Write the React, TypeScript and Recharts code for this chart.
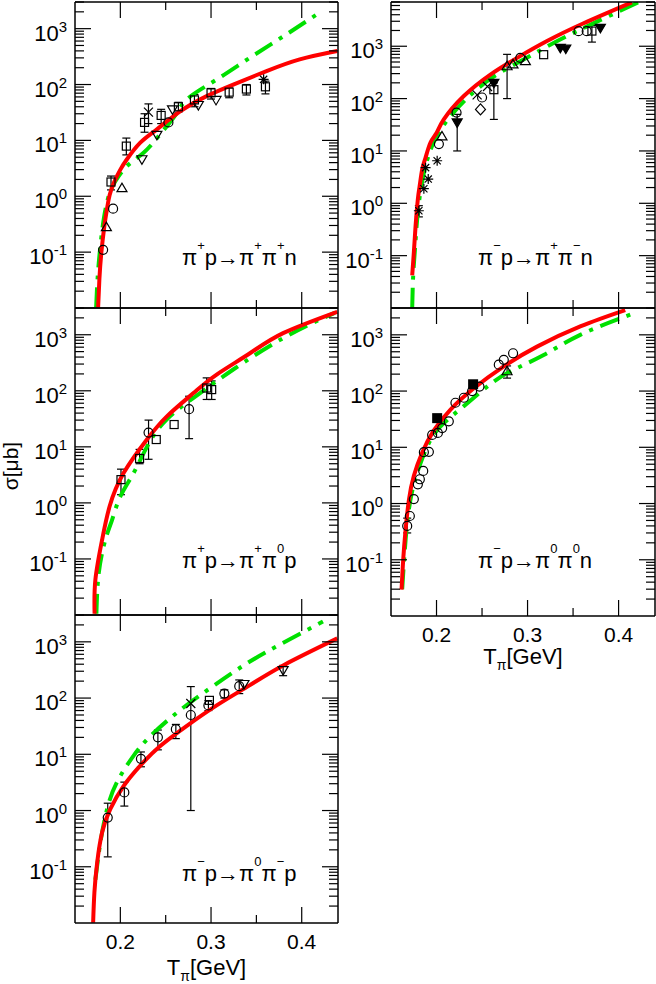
import React from "react";
import { ComposedChart, Line, Scatter, ErrorBar, XAxis, YAxis } from "recharts";

type P = number[]; // [T (GeV), sigma (mub), optional low, optional high]

// ---- ticks ----
const T_TICKS = [0.2, 0.25, 0.3, 0.35, 0.4];
const T_LABELS = [0.2, 0.3, 0.4];
const DECADES = [-2, -1, 0, 1, 2, 3];
const MANTISSAS = [1, 2, 3, 4, 5, 6, 7, 8, 9];
const LABELED_DECADES = [-1, 0, 1, 2, 3];

// ---- pi+ p -> pi+ pi+ n ----
const A_RED: P[] = [[0.1755, 0.0102], [0.1769, 0.033], [0.1791, 0.1], [0.1824, 0.295], [0.1846, 0.51], [0.1872, 0.89], [0.1901, 1.33], [0.1945, 2.0], [0.2, 3.0], [0.2073, 4.6], [0.222, 9.1], [0.2403, 15.8], [0.2659, 33], [0.2952, 62], [0.3245, 100], [0.3612, 174], [0.3978, 282], [0.4392, 398]];
const A_GREEN: P[] = [[0.1733, 0.0102], [0.1751, 0.038], [0.178, 0.129], [0.1817, 0.39], [0.1872, 1.02], [0.1945, 1.86], [0.2073, 3.47], [0.2256, 6.0], [0.244, 12.9], [0.2623, 31], [0.2751, 57.5], [0.3062, 123], [0.3429, 302], [0.3795, 724], [0.4161, 1778]];
const A_SQUARES: P[] = [[0.1897, 1.8, 1.3, 2.3], [0.2066, 7.9, 5.5, 11], [0.2267, 21, 14, 30], [0.245, 28, 20, 36], [0.264, 40, 32, 48], [0.2817, 53, 40, 66], [0.3, 71, 55, 85], [0.32, 73, 58, 90], [0.339, 83, 65, 100], [0.36, 91, 68, 115]];
const A_CIRCLES: P[] = [[0.181, 0.11], [0.192, 0.6], [0.253, 21]];
const A_TRI_DOWN: P[] = [[0.2238, 4.6], [0.2403, 12.6], [0.2575, 36], [0.286, 43], [0.3055, 53]];
const A_TRI_UP: P[] = [[0.1846, 0.28], [0.2018, 1.4]];
const A_CROSS: P[] = [[0.231, 32, 20, 45]];
const A_STARS: P[] = [[0.358, 124]];

// ---- pi- p -> pi+ pi- n ----
const B_RED: P[] = [[0.1733, 0.042], [0.1751, 0.115], [0.177, 0.37], [0.1795, 1.2], [0.1814, 2.1], [0.1843, 4.5], [0.1879, 7.4], [0.1934, 14.5], [0.2, 22], [0.208, 40], [0.23, 112], [0.2592, 288], [0.2885, 600], [0.3214, 1260], [0.3616, 2750], [0.4146, 6900]];
const B_GREEN: P[] = [[0.1733, 0.0101], [0.1744, 0.042], [0.1766, 0.155], [0.1795, 0.68], [0.1854, 3.3], [0.1952, 12.6], [0.2099, 35], [0.2318, 95], [0.261, 251], [0.2921, 515], [0.325, 1070], [0.3653, 2400], [0.4219, 6900]];
const B_STARS: P[] = [[0.1806, 0.72, 0.55, 0.9], [0.1861, 1.9], [0.188, 4.8], [0.1909, 2.9], [0.2007, 6.5]];
const B_CIRCLES: P[] = [[0.2026, 13.5], [0.222, 54], [0.25, 105], [0.292, 600], [0.356, 1940], [0.365, 1940]];
const B_TRI_UP: P[] = [[0.206, 19], [0.2775, 415, 100, 700], [0.284, 450], [0.2976, 520]];
const B_TRI_DOWN: P[] = [[0.2227, 35, 10, 50], [0.263, 200], [0.336, 930], [0.342, 900], [0.38, 2240]];
const B_DIAMONDS: P[] = [[0.2483, 62]];
const B_SQUARES: P[] = [[0.263, 148, 40, 200], [0.3177, 690], [0.3707, 1950, 1200, 2500]];
const B_CROSS: P[] = [[0.2446, 118], [0.256, 170]];

// ---- pi+ p -> pi+ pi0 p ----
const C_RED: P[] = [[0.1716, 0.0105], [0.1725, 0.043], [0.1799, 0.22], [0.1882, 0.87], [0.2036, 3.4], [0.2293, 13.5], [0.2513, 35], [0.2806, 91], [0.3062, 195], [0.3429, 468], [0.3795, 1070], [0.4392, 2570]];
const C_GREEN: P[] = [[0.1736, 0.0105], [0.1762, 0.056], [0.1835, 0.22], [0.1909, 0.5], [0.2, 1.3], [0.2146, 3.4], [0.2293, 10], [0.2513, 31], [0.2879, 91], [0.3245, 240], [0.3795, 870], [0.4363, 2450]];
const C_SQUARES: P[] = [[0.2007, 2.6, 1.4, 4], [0.2212, 6.2, 5, 9], [0.2396, 13.5], [0.2593, 25], [0.2952, 112, 70, 170], [0.3007, 105, 70, 150]];
const C_CIRCLES: P[] = [[0.2311, 18, 6, 30], [0.2758, 47, 14, 80]];

// ---- pi- p -> pi0 pi0 n ----
const D_RED: P[] = [[0.1616, 0.0295], [0.1634, 0.1], [0.166, 0.34], [0.1697, 1.17], [0.1751, 3.1], [0.1843, 8.1], [0.1971, 20], [0.2154, 47], [0.241, 112], [0.2739, 275], [0.3104, 617], [0.3579, 1410], [0.4073, 2750]];
const D_GREEN: P[] = [[0.1623, 0.03], [0.1649, 0.13], [0.1686, 0.59], [0.1744, 2.0], [0.1824, 5.2], [0.1934, 13.5], [0.208, 27], [0.23, 54], [0.2556, 120], [0.2812, 224], [0.3177, 437], [0.3579, 1000], [0.4165, 2400]];
const D_CIRCLES: P[] = [[0.1678, 0.4, 0.3, 0.55], [0.1707, 0.6], [0.1751, 1.2], [0.1795, 2.2], [0.1817, 2.7], [0.1854, 3.8], [0.1861, 8.2], [0.1916, 8.3], [0.1952, 16.6], [0.2015, 18], [0.2062, 22], [0.2135, 29], [0.2208, 62], [0.23, 76], [0.2391, 100], [0.2472, 120], [0.2684, 295], [0.2739, 360], [0.2841, 470]];
const D_FILLED_SQUARES: P[] = [[0.2007, 33], [0.2402, 132]];
const D_TRI_UP: P[] = [[0.2775, 225, 170, 280]];

// ---- pi- p -> pi0 pi- p ----
const E_RED: P[] = [[0.17, 0.0101], [0.1714, 0.035], [0.1744, 0.117], [0.1799, 0.41], [0.189, 1.07], [0.2037, 2.75], [0.222, 6.3], [0.244, 14], [0.2733, 32], [0.3062, 74], [0.3429, 170], [0.3795, 380], [0.4392, 1150]];
const E_GREEN: P[] = [[0.1725, 0.059], [0.178, 0.27], [0.1853, 1.05], [0.1963, 3.2], [0.2147, 9.5], [0.233, 21], [0.2586, 49], [0.2879, 112], [0.3245, 288], [0.361, 660], [0.4234, 2290]];
const E_CIRCLES: P[] = [[0.1861, 0.75, 0.15, 1.35], [0.2044, 2.1, 1.2, 3.2], [0.2227, 8.3, 6, 11], [0.2414, 20, 12, 27], [0.2612, 28, 19, 34], [0.2777, 50, 1, 160], [0.2971, 74, 60, 90], [0.3147, 120, 100, 140], [0.3311, 163, 120, 210]];
const E_CROSS: P[] = [[0.2777, 80]];
const E_SQUARES: P[] = [[0.2982, 91]];
const E_TRI_DOWN: P[] = [[0.3363, 178], [0.3795, 315, 250, 380]];

const FONT = '"Liberation Sans", Arial, Helvetica, sans-serif';
const AXIS = { stroke: "#000", strokeWidth: 1.5 };
const SW = 1.2;

const SIGMA_TICKS = DECADES.flatMap((d) => MANTISSAS.map((m) => m * Math.pow(10, d)));

const isDecade = (v: number) => {
  const e = Math.log10(v);
  return Math.abs(e - Math.round(e)) < 1e-6;
};

// ---- markers ----
const openCircle = (p: any) => <circle cx={p.cx} cy={p.cy} r={4.5} fill="none" stroke="#000" strokeWidth={SW} />;
const openSquare = (p: any) => <rect x={p.cx - 4} y={p.cy - 4} width={8} height={8} fill="none" stroke="#000" strokeWidth={SW} />;
const filledSquare = (p: any) => <rect x={p.cx - 5} y={p.cy - 5} width={10} height={10} fill="#000" />;
const triDown = (p: any) => <path d={`M${p.cx - 5},${p.cy - 3.5}L${p.cx + 5},${p.cy - 3.5}L${p.cx},${p.cy + 5}Z`} fill="none" stroke="#000" strokeWidth={SW} />;
const triDownFilled = (p: any) => <path d={`M${p.cx - 5},${p.cy - 3.5}L${p.cx + 5},${p.cy - 3.5}L${p.cx},${p.cy + 5}Z`} fill="#000" stroke="#000" strokeWidth={SW} />;
const triUp = (p: any) => <path d={`M${p.cx - 5},${p.cy + 3.5}L${p.cx + 5},${p.cy + 3.5}L${p.cx},${p.cy - 5}Z`} fill="none" stroke="#000" strokeWidth={SW} />;
const diamond = (p: any) => <path d={`M${p.cx},${p.cy - 5.5}L${p.cx + 5},${p.cy}L${p.cx},${p.cy + 5.5}L${p.cx - 5},${p.cy}Z`} fill="none" stroke="#000" strokeWidth={SW} />;
const cross = (p: any) => (
  <path d={`M${p.cx - 4.5},${p.cy - 4.5}L${p.cx + 4.5},${p.cy + 4.5}M${p.cx - 4.5},${p.cy + 4.5}L${p.cx + 4.5},${p.cy - 4.5}`} stroke="#000" strokeWidth={SW} />
);
const star = (p: any) => (
  <path
    d={`M${p.cx - 5},${p.cy}L${p.cx + 5},${p.cy}M${p.cx},${p.cy - 5}L${p.cx},${p.cy + 5}M${p.cx - 3.6},${p.cy - 3.6}L${p.cx + 3.6},${p.cy + 3.6}M${p.cx - 3.6},${p.cy + 3.6}L${p.cx + 3.6},${p.cy - 3.6}`}
    stroke="#000"
    strokeWidth={SW}
  />
);

type Panel = {
  key: string;
  left: number;
  top: number;
  plotW: number;
  plotH: number;
  yMax: number;
  tLabels: boolean;
  tLabelDy: number;
  red: P[];
  green: P[];
  marks: [P[], (p: any) => React.ReactElement][];
  reaction: [string, string][];
  rx: number;
  ry: number;
};

const PANELS: Panel[] = [
  {
    key: "a", left: 0, top: 0, plotW: 263, plotH: 306, yMax: 3000, tLabels: false, tLabelDy: 0,
    red: A_RED, green: A_GREEN,
    marks: [[A_SQUARES, openSquare], [A_CIRCLES, openCircle], [A_TRI_DOWN, triDown], [A_TRI_UP, triUp], [A_CROSS, cross], [A_STARS, star]],
    reaction: [["π", "+"], ["p→π", "+"], ["π", "+"], ["n", ""]], rx: 182, ry: 265,
  },
  {
    key: "b", left: 316, top: 0, plotW: 264, plotH: 306, yMax: 7000, tLabels: false, tLabelDy: 0,
    red: B_RED, green: B_GREEN,
    marks: [[B_STARS, star], [B_CIRCLES, openCircle], [B_TRI_UP, triUp], [B_TRI_DOWN, triDownFilled], [B_DIAMONDS, diamond], [B_SQUARES, openSquare], [B_CROSS, cross]],
    reaction: [["π", "−"], ["p→π", "+"], ["π", "−"], ["n", ""]], rx: 478, ry: 265,
  },
  {
    key: "c", left: 0, top: 306, plotW: 263, plotH: 307, yMax: 3000, tLabels: false, tLabelDy: 0,
    red: C_RED, green: C_GREEN,
    marks: [[C_SQUARES, openSquare], [C_CIRCLES, openCircle]],
    reaction: [["π", "+"], ["p→π", "+"], ["π", "0"], ["p", ""]], rx: 182, ry: 568,
  },
  {
    key: "d", left: 316, top: 306, plotW: 264, plotH: 308, yMax: 3000, tLabels: true, tLabelDy: 48,
    red: D_RED, green: D_GREEN,
    marks: [[D_CIRCLES, openCircle], [D_FILLED_SQUARES, filledSquare], [D_TRI_UP, triUp]],
    reaction: [["π", "−"], ["p→π", "0"], ["π", "0"], ["n", ""]], rx: 478, ry: 568,
  },
  {
    key: "e", left: 0, top: 613, plotW: 263, plotH: 308, yMax: 3000, tLabels: true, tLabelDy: 52,
    red: E_RED, green: E_GREEN,
    marks: [[E_CIRCLES, openCircle], [E_CROSS, cross], [E_SQUARES, openSquare], [E_TRI_DOWN, triDown]],
    reaction: [["π", "−"], ["p→π", "0"], ["π", "−"], ["p", ""]], rx: 182, ry: 881,
  },
];

const lineRows = (pts: P[]) => pts.map(([x, y]) => ({ x, y }));
const markRows = (pts: P[]) =>
  pts.map(([x, y, lo, hi]) => ({ x, y, err: lo !== undefined ? [y - lo, hi - y] : undefined }));

function LeftTick(props: any) {
  const { x, y, payload } = props;
  const v = payload.value;
  const major = isDecade(v);
  const e = Math.round(Math.log10(v));
  return (
    <g>
      <line x1={x} x2={x + (major ? 16 : 9)} y1={y} y2={y} stroke="#000" strokeWidth={SW} />
      {major && LABELED_DECADES.includes(e) && (
        <text x={x - 8} y={y + 12} textAnchor="end" fontSize={22} fontFamily={FONT} fill="#000">
          10<tspan dy={-9} fontSize={15}>{String(e)}</tspan>
        </text>
      )}
    </g>
  );
}

function RightTick(props: any) {
  const { x, y, payload } = props;
  const major = isDecade(payload.value);
  return <line x1={x} x2={x - (major ? 16 : 9)} y1={y} y2={y} stroke="#000" strokeWidth={SW} />;
}

function BottomTick(props: any) {
  const { x, y, payload, labels } = props;
  const v = payload.value;
  const major = T_LABELS.some((t) => Math.abs(t - v) < 1e-9);
  return (
    <g>
      <line x1={x} x2={x} y1={y} y2={y - (major ? 16 : 8)} stroke="#000" strokeWidth={SW} />
      {labels && major && (
        <text x={x} y={y + 26} textAnchor="middle" fontSize={21} fontFamily={FONT} fill="#000">
          {String(v)}
        </text>
      )}
    </g>
  );
}

function TopTick(props: any) {
  const { x, y, payload } = props;
  const major = T_LABELS.some((t) => Math.abs(t - payload.value) < 1e-9);
  return <line x1={x} x2={x} y1={y} y2={y + (major ? 16 : 8)} stroke="#000" strokeWidth={SW} />;
}

function PanelChart({ p }: { p: Panel }) {
  const yTicks = SIGMA_TICKS.filter((v) => v > 0.0101 && v <= p.yMax);
  return (
    <div style={{ position: "absolute", left: p.left, top: p.top }}>
      <ComposedChart width={75 + p.plotW + 1} height={2 + p.plotH + 60} margin={{ top: 0, right: 0, bottom: 0, left: 0 }}>
        <XAxis
          xAxisId="b" dataKey="x" type="number" domain={[0.15, 0.44]} allowDataOverflow
          ticks={T_TICKS} interval={0} tickSize={0} tickMargin={0} tickLine={false} axisLine={AXIS} height={60}
          tick={(tp: any) => <BottomTick {...tp} labels={p.tLabels} />}
        />
        <XAxis
          xAxisId="t" orientation="top" dataKey="x" type="number" domain={[0.15, 0.44]} allowDataOverflow
          ticks={T_TICKS} interval={0} tickSize={0} tickMargin={0} tickLine={false} axisLine={AXIS} height={2}
          tick={(tp: any) => <TopTick {...tp} />}
        />
        <YAxis
          yAxisId="l" dataKey="y" type="number" scale="log" domain={[0.01, p.yMax]} allowDataOverflow
          ticks={yTicks} interval={0} tickSize={0} tickMargin={0} tickLine={false} axisLine={AXIS} width={75}
          tick={(tp: any) => <LeftTick {...tp} />}
        />
        <YAxis
          yAxisId="r" orientation="right" dataKey="y" type="number" scale="log" domain={[0.01, p.yMax]} allowDataOverflow
          ticks={yTicks} interval={0} tickSize={0} tickMargin={0} tickLine={false} axisLine={AXIS} width={1}
          tick={(tp: any) => <RightTick {...tp} />}
        />
        {p.marks.map(([pts, shape], i) => (
          <Scatter key={i} xAxisId="b" yAxisId="l" data={markRows(pts)} dataKey="y" shape={shape} isAnimationActive={false}>
            <ErrorBar dataKey="err" direction="y" width={4} stroke="#000" strokeWidth={SW} />
          </Scatter>
        ))}
        <Line
          xAxisId="b" yAxisId="l" data={lineRows(p.green)} dataKey="y" type="natural" dot={false}
          stroke="#00e000" strokeWidth={4} strokeDasharray="20 8 4 8" isAnimationActive={false}
        />
        <Line
          xAxisId="b" yAxisId="l" data={lineRows(p.red)} dataKey="y" type="natural" dot={false}
          stroke="#ff0000" strokeWidth={4} isAnimationActive={false}
        />
      </ComposedChart>
    </div>
  );
}

function Reaction({ parts, x, y }: { parts: [string, string][]; x: number; y: number }) {
  const spans: React.ReactElement[] = [];
  parts.forEach(([base, sup], i) => {
    const back = i > 0 && parts[i - 1][1] ? 15 : 0;
    spans.push(<tspan key={`b${i}`} dy={back}>{base}</tspan>);
    if (sup) spans.push(<tspan key={`s${i}`} dy={-15} fontSize={13}>{sup}</tspan>);
  });
  return (
    <text x={x} y={y} fontSize={22} fontFamily={FONT} fill="#000">
      {spans}
    </text>
  );
}

function TLabel({ x, y }: { x: number; y: number }) {
  return (
    <text x={x} y={y} textAnchor="middle" fontSize={22} fontFamily={FONT} fill="#000">
      T<tspan dy={6} fontSize={14}>π</tspan>
      <tspan dy={-6}>[GeV]</tspan>
    </text>
  );
}

export default function App() {
  return (
    <div style={{ position: "absolute", left: 0, top: 0, width: 656, height: 984, background: "#fff", fontFamily: FONT, overflow: "hidden" }}>
      {PANELS.map((p) => (
        <PanelChart key={p.key} p={p} />
      ))}
      <svg width={656} height={984} style={{ position: "absolute", left: 0, top: 0, pointerEvents: "none" }}>
        {PANELS.map((p) => (
          <Reaction key={p.key} parts={p.reaction} x={p.rx} y={p.ry} />
        ))}
        {PANELS.filter((p) => p.tLabels).map((p) => (
          <TLabel key={p.key} x={p.left + 75 + p.plotW / 2} y={p.top + 2 + p.plotH + p.tLabelDy} />
        ))}
        <text transform="translate(18,466) rotate(-90)" textAnchor="middle" fontSize={21} fontFamily={FONT} fill="#000">
          σ[μb]
        </text>
      </svg>
    </div>
  );
}
